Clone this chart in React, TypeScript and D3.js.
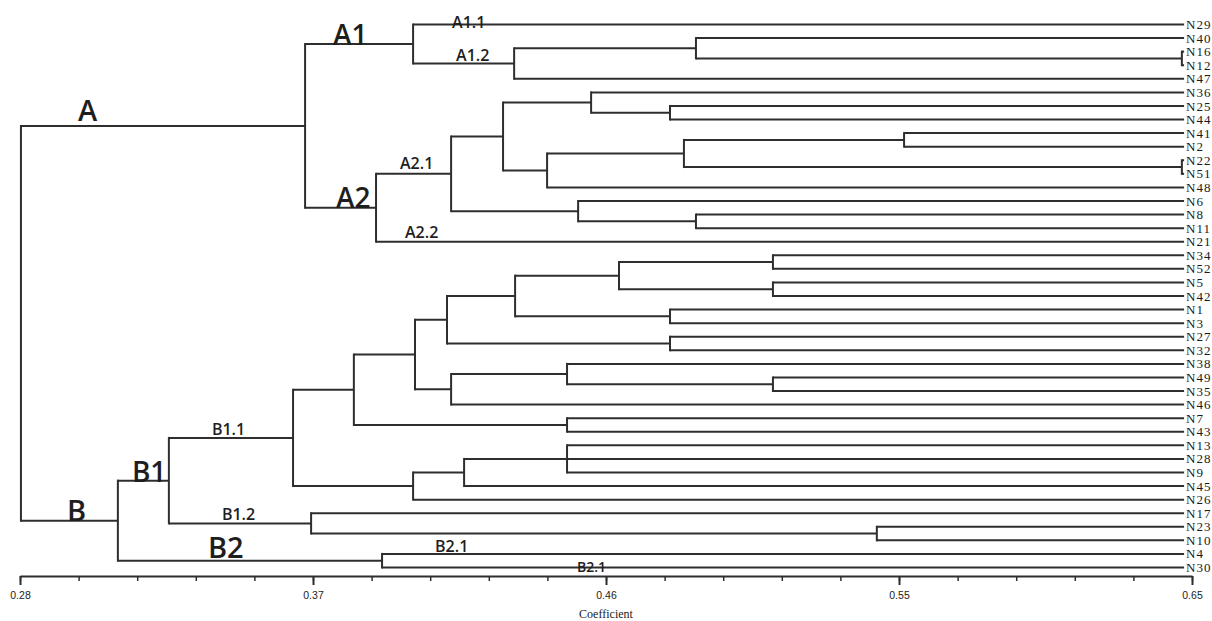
import { useEffect, useRef } from "react";
import * as d3 from "d3";

// leaf order, top to bottom
const leaves = [
  "N29", "N40", "N16", "N12", "N47", "N36", "N25", "N44", "N41", "N2",
  "N22", "N51", "N48", "N6", "N8", "N11", "N21", "N34", "N52", "N5",
  "N42", "N1", "N3", "N27", "N32", "N38", "N49", "N35", "N46", "N7",
  "N43", "N13", "N28", "N9", "N45", "N26", "N17", "N23", "N10", "N4", "N30",
];

// [node, children, coefficient at which they join]
const merges: [string, string[], number][] = [
  ["root", ["A", "B"], 0.2803],
  ["A", ["A1", "A2"], 0.37],
  ["A1", ["N29", "A1.2"], 0.4041],
  ["A1.2", ["a12a", "N47"], 0.436],
  ["a12a", ["N40", "a12b"], 0.4934],
  ["a12b", ["N16", "N12"], 0.6468],
  ["A2", ["A2.1", "N21"], 0.3924],
  ["A2.1", ["a21a", "a21b"], 0.4161],
  ["a21a", ["a21c", "a21d"], 0.4325],
  ["a21c", ["N36", "a21e"], 0.4603],
  ["a21e", ["N25", "N44"], 0.4852],
  ["a21d", ["a21f", "N48"], 0.4464],
  ["a21f", ["a21g", "a21h"], 0.4896],
  ["a21g", ["N41", "N2"], 0.5591],
  ["a21h", ["N22", "N51"], 0.6468],
  ["a21b", ["N6", "a21i"], 0.4562],
  ["a21i", ["N8", "N11"], 0.4934],
  ["B", ["B1", "B2"], 0.3109],
  ["B1", ["B1.1", "B1.2"], 0.327],
  ["B1.1", ["b11a", "b11b"], 0.3662],
  ["b11a", ["b11c", "b11d"], 0.3854],
  ["b11c", ["b11e", "b11f"], 0.4047],
  ["b11e", ["b11g", "b11h"], 0.4148],
  ["b11g", ["b11i", "b11j"], 0.4363],
  ["b11i", ["b11k", "b11l"], 0.4691],
  ["b11k", ["N34", "N52"], 0.5177],
  ["b11l", ["N5", "N42"], 0.5177],
  ["b11j", ["N1", "N3"], 0.4852],
  ["b11h", ["N27", "N32"], 0.4852],
  ["b11f", ["b11m", "N46"], 0.4161],
  ["b11m", ["N38", "b11n"], 0.4527],
  ["b11n", ["N49", "N35"], 0.5177],
  ["b11d", ["N7", "N43"], 0.4527],
  ["b11b", ["b11o", "N26"], 0.4041],
  ["b11o", ["b11p", "N45"], 0.4202],
  ["b11p", ["N13", "N28", "N9"], 0.4527],
  ["B1.2", ["N17", "b12a"], 0.3719],
  ["b12a", ["N23", "N10"], 0.5505],
  ["B2", ["N4", "N30"], 0.3943],
];

const leafEnd = 0.6475;
const majorTicks = [0.28, 0.3725, 0.465, 0.5575, 0.65];
const tickLabels = ["0.28", "0.37", "0.46", "0.55", "0.65"];

// group labels, placed on the branch leading to a node
const annotations = [
  { text: "A", node: "A", dx: 57, dy: -5, size: 29 },
  { text: "A1", node: "A1", dx: 28, dy: 1, size: 28 },
  { text: "A2", node: "A2", dx: 31, dy: 0, size: 28 },
  { text: "A1.1", node: "N29", dx: 39, dy: 3.5, size: 16 },
  { text: "A1.2", node: "A1.2", dx: 43, dy: -3, size: 16 },
  { text: "A2.1", node: "A2.1", dx: 24, dy: -5, size: 16 },
  { text: "A2.2", node: "N21", dx: 29, dy: -4, size: 16 },
  { text: "B", node: "B", dx: 46, dy: 0, size: 29 },
  { text: "B1", node: "B1", dx: 14, dy: 1, size: 28 },
  { text: "B2", node: "B2", dx: 90, dy: -3, size: 29 },
  { text: "B1.1", node: "B1.1", dx: 43, dy: -2.5, size: 16 },
  { text: "B1.2", node: "B1.2", dx: 53, dy: -3, size: 16 },
  { text: "B2.1", node: "N4", dx: 53, dy: -2, size: 16 },
  { text: "B2.1", node: "N30", dx: 195, dy: 4, size: 14 },
];

export default function App() {
  const ref = useRef<SVGSVGElement>(null);

  useEffect(() => {
    const width = 1212;
    const height = 621;
    const svg = d3.select(ref.current);
    svg.selectAll("*").remove();

    const coef = new Map(merges.map((m) => [m[0], m[2]]));
    const kids = new Map(merges.map((m) => [m[0], m[1]]));

    const x = d3.scaleLinear().domain([0.28, 0.65]).range([20, 1192]);
    const y = d3.scalePoint().domain(leaves).range([24.5, 567.5]);

    const root = d3.hierarchy("root", (id: string) => kids.get(id));
    const pos = new Map<string, { x: number; y: number }>();
    root.eachAfter((n: any) => {
      if (!n.children) {
        pos.set(n.data, { x: x(leafEnd), y: y(n.data)! });
      } else {
        const ys = n.children.map((c: any) => pos.get(c.data)!.y);
        pos.set(n.data, { x: x(coef.get(n.data)!), y: (d3.min(ys)! + d3.max(ys)!) / 2 });
      }
    });

    const stroke = "#2e2e2e";
    const g = svg.append("g");

    root.descendants().forEach((n: any) => {
      if (!n.children) return;
      const p = pos.get(n.data)!;
      const ys = n.children.map((c: any) => pos.get(c.data)!.y);
      g.append("line")
        .attr("x1", p.x).attr("x2", p.x)
        .attr("y1", d3.min(ys)!).attr("y2", d3.max(ys)!)
        .attr("stroke", stroke).attr("stroke-width", 2)
        .attr("stroke-linecap", "square");
      n.children.forEach((c: any) => {
        const cp = pos.get(c.data)!;
        g.append("line")
          .attr("x1", p.x).attr("x2", cp.x)
          .attr("y1", cp.y).attr("y2", cp.y)
          .attr("stroke", stroke).attr("stroke-width", 2);
      });
    });

    // leaf names (run off the right edge, as in the original)
    svg.append("g")
      .selectAll("text")
      .data(leaves)
      .join("text")
      .attr("x", x(leafEnd) + 2)
      .attr("y", (d) => y(d)!)
      .attr("dy", "0.35em")
      .attr("font-family", "'Liberation Serif', 'DejaVu Serif', serif")
      .attr("font-size", 13)
      .attr("letter-spacing", 1)
      .attr("fill", "#1a1a1a")
      .text((d) => d);

    // group labels
    const parentOf = new Map<string, string>();
    root.descendants().forEach((n: any) => {
      if (n.parent) parentOf.set(n.data, n.parent.data);
    });
    svg.append("g")
      .selectAll("text")
      .data(annotations)
      .join("text")
      .attr("x", (d) => pos.get(parentOf.get(d.node)!)!.x + d.dx)
      .attr("y", (d) => pos.get(d.node)!.y + d.dy)
      .attr("font-family", "'Open Sans', 'Noto Sans', sans-serif")
      .attr("font-weight", 600)
      .attr("font-size", (d) => d.size)
      .attr("fill", "#1e1e1e")
      .text((d) => d.text);

    // axis
    const axisY = 576;
    const minor = svg.append("g")
      .attr("transform", `translate(0,${axisY})`)
      .call(
        d3.axisBottom(x)
          .tickValues(d3.range(21).map((k) => 0.28 + k * 0.0185))
          .tickSize(5)
          .tickSizeOuter(0)
          .tickFormat(() => "")
      );
    minor.select(".domain").attr("stroke", stroke).attr("stroke-width", 2);
    minor.selectAll(".tick line").attr("stroke", stroke).attr("stroke-width", 1.5);

    const major = svg.append("g")
      .attr("transform", `translate(0,${axisY})`)
      .call(
        d3.axisBottom(x)
          .tickValues(majorTicks)
          .tickSize(9)
          .tickSizeOuter(0)
          .tickPadding(7)
          .tickFormat((_, i) => tickLabels[i])
      );
    major.select(".domain").remove();
    major.selectAll(".tick line").attr("stroke", stroke).attr("stroke-width", 2);
    major.selectAll(".tick text")
      .attr("font-family", "'Liberation Sans', Arial, sans-serif")
      .attr("font-size", 10.5)
      .attr("fill", "#222");

    svg.append("text")
      .attr("x", x(0.465))
      .attr("y", 618)
      .attr("text-anchor", "middle")
      .attr("font-family", "'Liberation Serif', serif")
      .attr("font-size", 12)
      .attr("fill", "#222")
      .text("Coefficient");

    svg.attr("width", width).attr("height", height);
  }, []);

  return (
    <svg
      ref={ref}
      width={1212}
      height={621}
      style={{ position: "absolute", left: 0, top: 0, background: "#fff", display: "block" }}
    />
  );
}
